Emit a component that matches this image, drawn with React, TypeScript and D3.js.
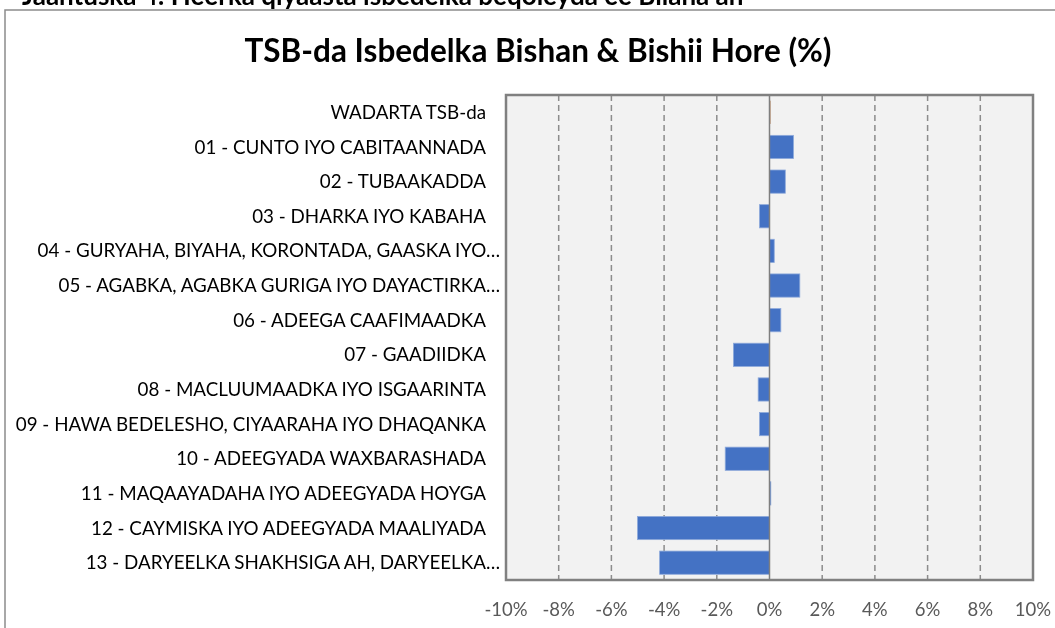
import React, { useEffect, useRef } from 'react';
import * as d3 from 'd3';

const categories = [
  'WADARTA TSB-da',
  '01 - CUNTO IYO CABITAANNADA ',
  '02 - TUBAAKADDA',
  '03 - DHARKA IYO KABAHA',
  '04 - GURYAHA, BIYAHA, KORONTADA, GAASKA IYO…',
  '05 - AGABKA, AGABKA GURIGA IYO DAYACTIRKA…',
  '06 - ADEEGA CAAFIMAADKA',
  '07 - GAADIIDKA',
  '08 - MACLUUMAADKA IYO ISGAARINTA',
  '09 - HAWA BEDELESHO, CIYAARAHA IYO DHAQANKA',
  '10 - ADEEGYADA WAXBARASHADA',
  '11 - MAQAAYADAHA IYO ADEEGYADA HOYGA',
  '12 - CAYMISKA IYO ADEEGYADA MAALIYADA',
  '13 - DARYEELKA SHAKHSIGA AH, DARYEELKA…',
];

// month-on-month change, %
const changes = [0.02, 0.91, 0.6, -0.38, 0.18, 1.15, 0.43, -1.37, -0.43, -0.38, -1.68, 0.05, -5.01, -4.17];

const tickValues = [-10, -8, -6, -4, -2, 0, 2, 4, 6, 8, 10];

const W = 1055;
const H = 628;

const App = () => {
  const ref = useRef<SVGSVGElement>(null);

  useEffect(() => {
    const svg = d3.select(ref.current);
    svg.selectAll('*').remove();

    const font = 'Lato, "Open Sans", sans-serif';
    const left = 506, right = 1033, top = 95, bottom = 580;

    const x = d3.scaleLinear().domain([-10, 10]).range([left, right]);
    const y = d3.scaleBand().domain(categories).range([top, bottom]).paddingInner(0.33).paddingOuter(0.165);

    // caption cut off at the top of the page (as in the source)
    svg.append('text')
      .attr('x', 22).attr('y', 5)
      .style('font-family', font).style('font-weight', 'bold').style('font-size', '26px')
      .text('Jaantuska 4: Heerka qiyaasta isbedelka beqoleyda ee Bilaha an');

    // chart frame
    svg.append('rect')
      .attr('x', 5).attr('y', 10).attr('width', W + 20).attr('height', H + 20)
      .attr('fill', 'white').attr('stroke', '#8c8c8c').attr('stroke-width', 1.5);

    svg.append('text')
      .attr('x', 538).attr('y', 62)
      .attr('text-anchor', 'middle')
      .style('font-family', font).style('font-weight', 'bold').style('font-size', '31.5px')
      .style('fill', '#000')
      .text('TSB-da Isbedelka Bishan & Bishii Hore (%)');

    svg.append('rect')
      .attr('x', left).attr('y', top).attr('width', right - left).attr('height', bottom - top)
      .attr('fill', '#f2f2f2');

    svg.append('g')
      .selectAll('line')
      .data(tickValues.filter(d => d !== 0 && Math.abs(d) !== 10))
      .enter()
      .append('line')
      .attr('x1', d => x(d)).attr('x2', d => x(d))
      .attr('y1', top).attr('y2', bottom)
      .attr('stroke', '#8c8c8c').attr('stroke-width', 1.5)
      .attr('stroke-dasharray', '6,4');

    svg.append('g')
      .selectAll('rect')
      .data(changes)
      .enter()
      .append('rect')
      .attr('x', d => x(Math.min(0, d)))
      .attr('y', (d, i) => y(categories[i]))
      .attr('width', d => Math.max(1, Math.abs(x(d) - x(0))))
      .attr('height', y.bandwidth())
      .attr('fill', (d, i) => (i === 0 ? '#b87a4b' : '#4472c4'))
      .attr('stroke', (d, i) => (i === 0 ? 'none' : '#8eaadb'))
      .attr('stroke-width', 0.8);

    // zero line
    svg.append('line')
      .attr('x1', x(0)).attr('x2', x(0)).attr('y1', top).attr('y2', bottom)
      .attr('stroke', '#7f7f7f').attr('stroke-width', 1.5);

    svg.append('rect')
      .attr('x', left).attr('y', top).attr('width', right - left).attr('height', bottom - top)
      .attr('fill', 'none').attr('stroke', '#808080').attr('stroke-width', 2.5);

    svg.append('g')
      .selectAll('text')
      .data(categories)
      .enter()
      .append('text')
      .attr('x', d => (d.endsWith('…') ? 500 : 486))
      .attr('y', d => y(d) + y.bandwidth() / 2)
      .attr('dy', '0.35em')
      .attr('text-anchor', 'end')
      .style('font-family', font).style('font-size', '18.8px')
      .style('fill', '#000')
      .text(d => d.trim());

    svg.append('g')
      .selectAll('text')
      .data(tickValues)
      .enter()
      .append('text')
      .attr('x', d => x(d))
      .attr('y', 616)
      .attr('text-anchor', 'middle')
      .style('font-family', font).style('font-size', '18.5px')
      .style('fill', '#595959')
      .text(d => `${d}%`);
  }, []);

  return (
    <div style={{ position: 'fixed', left: 0, top: 0 }}>
      <svg ref={ref} width={W} height={H} style={{ display: 'block' }} />
    </div>
  );
};

export default App;
